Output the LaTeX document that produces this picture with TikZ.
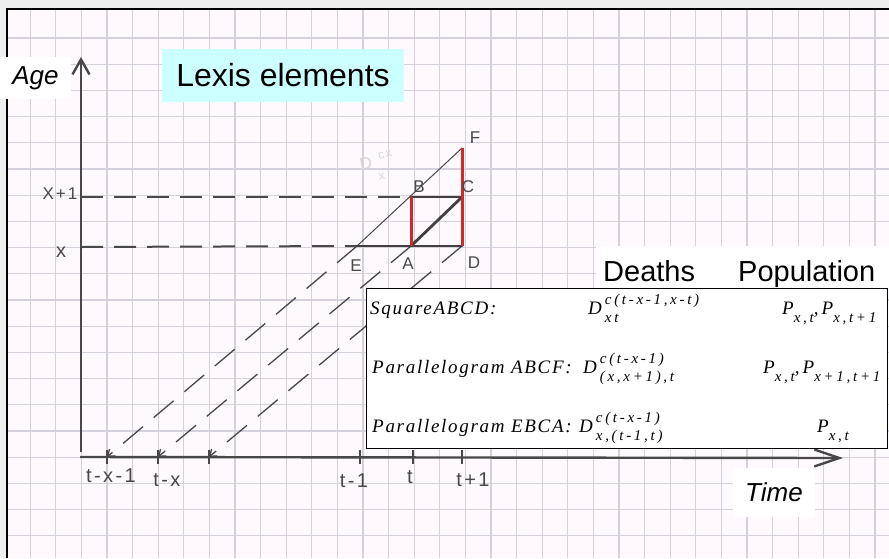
\documentclass[tikz,border=0pt]{standalone}
\usepackage{fontspec}
\setmainfont{Liberation Sans}
\newfontfamily\tabfont{Liberation Serif}[LetterSpace=9]
\newfontfamily\tabsubfont{Liberation Serif}[LetterSpace=18]
\newfontfamily\handfont{Liberation Sans}[LetterSpace=12]
\usetikzlibrary{arrows.meta}
\definecolor{paper}{RGB}{253,249,252}
\definecolor{gridc}{RGB}{214,207,220}
\definecolor{marginc}{RGB}{238,238,238}
\definecolor{pencil}{RGB}{72,72,72}
\definecolor{redpen}{RGB}{212,40,40}
\definecolor{cyanbox}{RGB}{204,255,255}
\newcommand\mainsz{\tabfont\itshape\fontsize{19}{22}\selectfont}
\newcommand\subsz{\tabsubfont\itshape\fontsize{15}{18}\selectfont}
\newcommand\supsub[2]{\rlap{\raisebox{10pt}{\subsz #1}}\raisebox{-8pt}{\subsz #2}}
\newcommand\lowsub[1]{\raisebox{-8pt}{\subsz #1}}
\begin{document}
\begin{tikzpicture}[x=1pt,y=-1pt,
  gridline/.style={gridc,line width=1.1pt},
  axisline/.style={pencil,line width=2.4pt},
  guideline/.style={pencil,line width=2pt,dash pattern=on 22pt off 11pt},
  diagline/.style={pencil,line width=1.3pt,dash pattern=on 26pt off 14pt,-{Straight Barb[length=6pt,width=9pt]}},
  solidline/.style={black!75,line width=2.8pt,line cap=round},
  thinline/.style={pencil,line width=1pt},
  redline/.style={redpen,line width=3pt},
  tickmark/.style={pencil,line width=1.6pt},
  hand/.style={text=pencil,font=\handfont\fontsize{17}{19}\selectfont,inner sep=0pt},
  handbig/.style={text=pencil,font=\handfont\fontsize{20}{22}\selectfont,inner sep=0pt},
  labelbox/.style={inner sep=0pt,font=\itshape\fontsize{26}{30}\selectfont},
  headtxt/.style={inner sep=0pt,anchor=base west,font=\fontsize{29}{33}\selectfont},
  tabtxt/.style={inner sep=0pt,anchor=base west,font=\mainsz},
  ghost/.style={text=black!16,font=\handfont\fontsize{17}{19}\selectfont,inner sep=0pt}
]
\useasboundingbox (0,0) rectangle (889,558);
\fill[marginc] (0,0) rectangle (889,558);
\fill[paper] (7,9) rectangle (889,558);
\foreach \i in {0,...,33} \draw[gridline] ({30.2+25.6*\i},9) -- ({30.2+25.6*\i},558);
\foreach \j in {0,...,19} \draw[gridline] (7,{38+26.2*\j}) -- (889,{38+26.2*\j});
\draw[black,line width=1.5pt] (7,558) -- (7,9) -- (889,9);

% coordinates
\coordinate (Ytop) at (81,57);
\coordinate (Ybot) at (81,452);
\coordinate (Xstart) at (80,457);
\coordinate (Xend) at (843,458);
\coordinate (E) at (357,246);
\coordinate (A) at (411,246);
\coordinate (D) at (462,246);
\coordinate (B) at (411,197);
\coordinate (C) at (462,197);
\coordinate (F) at (462,148);
\coordinate (Yx1) at (81,197);
\coordinate (Yx) at (81,247);
\coordinate (T1) at (107,457);
\coordinate (T2) at (158,457);
\coordinate (T3) at (209,457);
\coordinate (Tm) at (360,457);
\coordinate (Tt) at (413,457);
\coordinate (Tp) at (462,457);

% faint erased pencil text
\node[ghost,rotate=12] (ghostD) at (366,163) {D};
\node[ghost,rotate=12,font=\handfont\fontsize{12}{13}\selectfont] (ghostcx) at (385,155) {cx};
\node[ghost,rotate=12,font=\handfont\fontsize{12}{13}\selectfont] (ghostx) at (382,177) {x};

% guide lines
\draw[guideline] (Yx1) -- (B);
\draw[guideline] (Yx) -- (E);
\draw[diagline] (E) -- (T1);
\draw[diagline] (A) -- (T2);
\draw[diagline] (D) -- (T3);

% axes
\draw[axisline,-{Straight Barb[length=15pt,width=17pt]}] (Ybot) -- (Ytop);
\draw[axisline,-{Straight Barb[length=25pt,width=17pt]}] (Xstart) -- (Xend);
\foreach \p in {T1,T2,T3,Tm,Tt,Tp} \draw[tickmark] (\p) ++(0,-7) -- ++(0,14);

% Lexis square
\draw[thinline] (E) -- (F);
\draw[solidline] (E) -- (D);
\draw[solidline] (B) -- (C);
\draw[solidline] (A) -- (C);
\draw[redline] (A) -- (B);
\draw[redline] (D) -- (F);

% hand labels
\node[hand] (lx1) at (60,194) {X+1};
\node[handbig] (lx) at (61,252) {x};
\node[hand] (lE) at (356,266) {E};
\node[hand] (lA) at (408,264) {A};
\node[hand] (lD) at (474,263) {D};
\node[hand] (lB) at (419,187) {B};
\node[hand] (lC) at (468,187) {C};
\node[hand] (lF) at (475,138) {F};
\node[handbig] (ltx1) at (111,476) {t-x-1};
\node[handbig] (ltx) at (167,480) {t-x};
\node[handbig] (ltm) at (354,481) {t-1};
\node[handbig] (ltt) at (410,477) {t};
\node[handbig] (ltp) at (473,480) {t+1};

% label boxes
\node[labelbox,fill=white,minimum width=71pt,minimum height=42pt] (age) at (35.5,78) {Age};
\node[inner sep=0pt,fill=cyanbox,minimum width=242pt,minimum height=53pt,font=\fontsize{32}{36}\selectfont] (title) at (283,75.5) {Lexis elements};
\node[labelbox,fill=white,minimum width=82pt,minimum height=49pt] (time) at (774,492.5) {Time};

% header
\node[fill=white,inner sep=0pt,minimum width=293pt,minimum height=42pt,anchor=north west] (hdrbg) at (596,246) {};
\node[headtxt] (deaths) at (603,281) {Deaths};
\node[headtxt] (popul) at (738,281) {Population};

% table
\node[draw=black,line width=1.3pt,fill=white,inner sep=0pt,minimum width=521pt,minimum height=160pt,anchor=north west] (tbl) at (366,288) {};
\node[tabtxt] (r1a) at (370,314) {SquareABCD:};
\node[tabtxt] (r1b) at (588,314) {D\hspace{3pt}\supsub{c(t-x-1,x-t)}{xt}};
\node[tabtxt] (r1c) at (782,314) {P\lowsub{x,t},\,P\lowsub{x,t+1}};
\node[tabtxt] (r2a) at (372,373) {Parallelogram ABCF:};
\node[tabtxt] (r2b) at (583,373) {D\hspace{3pt}\supsub{c(t-x-1)}{(x,x+1),t}};
\node[tabtxt] (r2c) at (763,373) {P\lowsub{x,t},\,P\lowsub{x+1,t+1}};
\node[tabtxt] (r3a) at (372,432) {Parallelogram EBCA:};
\node[tabtxt] (r3b) at (579,432) {D\hspace{3pt}\supsub{c(t-x-1)}{x,(t-1,t)}};
\node[tabtxt] (r3c) at (817,432) {P\lowsub{x,t}};
\end{tikzpicture}
\end{document}
